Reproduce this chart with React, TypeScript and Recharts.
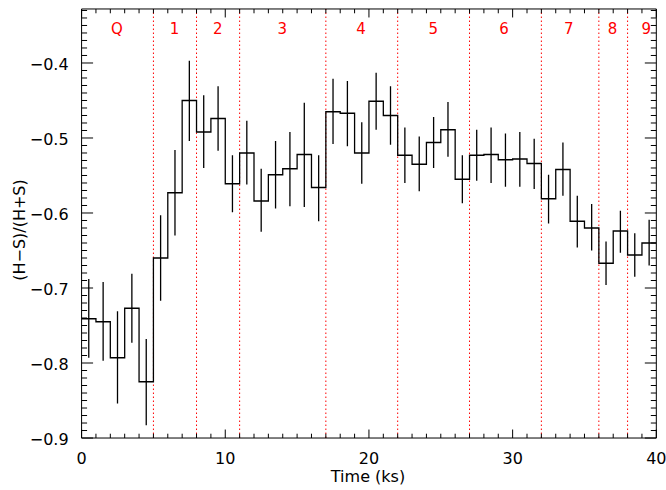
import React from 'react';
import { ComposedChart, Line, Scatter, ErrorBar, XAxis, YAxis, ReferenceLine, Customized } from 'recharts';

// Bin start times (ks), width 1 ks
const binStarts = [0, 1, 2, 3, 4, 5, 6, 7, 8, 9, 10, 11, 12, 13, 14, 15, 16, 17, 18, 19,
  20, 21, 22, 23, 24, 25, 26, 27, 28, 29, 30, 31, 32, 33, 34, 35, 36, 37, 38, 39];
const binWidth = 1;

// Hardness ratio (H-S)/(H+S) per bin
const hrValues = [-0.741, -0.745, -0.793, -0.727, -0.825, -0.660, -0.573, -0.450, -0.492, -0.474,
  -0.561, -0.520, -0.584, -0.549, -0.541, -0.522, -0.566, -0.465, -0.467, -0.520,
  -0.451, -0.470, -0.523, -0.535, -0.506, -0.489, -0.555, -0.523, -0.522, -0.529,
  -0.528, -0.534, -0.581, -0.542, -0.611, -0.620, -0.667, -0.624, -0.656, -0.640];
// Upper and lower ends of the error bars
const hrUpper = [-0.688, -0.692, -0.731, -0.681, -0.768, -0.603, -0.516, -0.397, -0.443, -0.431,
  -0.523, -0.477, -0.541, -0.504, -0.492, -0.453, -0.523, -0.421, -0.424, -0.479,
  -0.413, -0.431, -0.486, -0.498, -0.472, -0.452, -0.523, -0.489, -0.486, -0.494,
  -0.492, -0.501, -0.549, -0.506, -0.577, -0.588, -0.638, -0.597, -0.627, -0.609];
const hrLower = [-0.793, -0.797, -0.854, -0.773, -0.883, -0.717, -0.630, -0.504, -0.540, -0.517,
  -0.599, -0.562, -0.625, -0.594, -0.591, -0.592, -0.611, -0.508, -0.511, -0.561,
  -0.489, -0.509, -0.560, -0.571, -0.540, -0.525, -0.587, -0.557, -0.560, -0.565,
  -0.565, -0.568, -0.614, -0.577, -0.646, -0.650, -0.696, -0.653, -0.685, -0.670];

// Region boundaries and labels
const regionBounds = [5, 8, 11, 17, 22, 27, 32, 36, 38];
const regionNames = ['Q', '1', '2', '3', '4', '5', '6', '7', '8', '9'];
const regionLabelX = [2.45, 6.46, 9.47, 13.97, 19.44, 24.47, 29.4, 33.9, 36.95, 39.3];
const regionLabelY = -0.354;

// Axis ticks (major labelled, minor unlabelled)
const xMajorTicks = [0, 10, 20, 30, 40];
const xMinorTicks = [1, 2, 3, 4, 5, 6, 7, 8, 9, 11, 12, 13, 14, 15, 16, 17, 18, 19,
  21, 22, 23, 24, 25, 26, 27, 28, 29, 31, 32, 33, 34, 35, 36, 37, 38, 39];
const yMajorTicks = [-0.9, -0.8, -0.7, -0.6, -0.5, -0.4];
const yMinorTicks = Array.from({ length: 58 }, (_, i) => Math.round((-0.9 + i * 0.01) * 1000) / 1000)
  .filter((v) => !yMajorTicks.some((m) => Math.abs(m - v) < 1e-6));

const X_DOMAIN: [number, number] = [0, 40];
const Y_DOMAIN: [number, number] = [-0.9, -0.328];

const FONT = 'DejaVu Sans';
const TINY = 0.01;
const W = 666;
const H = 490;
const M = { top: 9, right: 9.7, bottom: 52, left: 81.6 };
const PLOT_LEFT = M.left;
const PLOT_BOTTOM = H - M.bottom;

const stepData = [
  ...binStarts.map((s, i) => ({ x: s, y: hrValues[i] })),
  { x: binStarts[binStarts.length - 1] + binWidth, y: hrValues[hrValues.length - 1] },
];
const pointData = binStarts.map((s, i) => ({
  x: s + binWidth / 2,
  y: hrValues[i],
  err: [hrValues[i] - hrLower[i], hrUpper[i] - hrValues[i]],
}));
const labelData = regionNames.map((t, i) => ({ x: regionLabelX[i], y: regionLabelY, t }));

const fmtY = (v: number) => (v < 0 ? '\u2212' : '') + Math.abs(v).toFixed(1);

const LeftLabel = (p: any) => (
  <text x={PLOT_LEFT - 13} y={p.y + 7} textAnchor="end" fontSize={16} fontFamily={FONT} fill="#000">
    {fmtY(p.payload.value)}
  </text>
);
const BottomLabel = (p: any) => (
  <text x={p.x} y={PLOT_BOTTOM + 26} textAnchor="middle" fontSize={16} fontFamily={FONT} fill="#000">
    {String(p.payload.value)}
  </text>
);
const NoLabel = () => <g />;

const RegionLabel = (p: any) => (
  <text x={p.cx} y={p.cy + 5.5} textAnchor="middle" fontSize={15} fontFamily={FONT} fill="#ff0000">
    {p.payload.t}
  </text>
);

const Titles = () => (
  <g>
    <text x={368} y={482} textAnchor="middle" fontSize={16} fontFamily={FONT} fill="#000">
      Time (ks)
    </text>
    <text
      x={19}
      y={230}
      transform="rotate(-90, 19, 230)"
      textAnchor="middle"
      dy="0.35em"
      fontSize={16}
      fontFamily={FONT}
      fill="#000"
    >
      (H{'\u2212'}S)/(H+S)
    </text>
  </g>
);

const Empty = () => <g />;
const TL = { stroke: '#000', strokeWidth: 1 };

export default function App() {
  return (
    <div style={{ position: 'absolute', left: 0, top: 0, width: W, height: H, background: '#fff' }}>
      <ComposedChart
        width={W}
        height={H}
        margin={{
          top: M.top - 2 * TINY,
          right: M.right - 2 * TINY,
          bottom: M.bottom - 2 * TINY,
          left: M.left - 2 * TINY,
        }}
      >
        {/* bottom: major ticks + labels, minor ticks (ticks point inward) */}
        <XAxis xAxisId="b" type="number" dataKey="x" domain={X_DOMAIN} ticks={xMajorTicks} interval={0}
          allowDataOverflow height={TINY} mirror tickSize={8.5} tickMargin={0} tickLine={TL}
          axisLine={TL} tick={BottomLabel} />
        <XAxis xAxisId="bm" type="number" dataKey="x" domain={X_DOMAIN} ticks={xMinorTicks} interval={0}
          allowDataOverflow height={TINY} mirror tickSize={4.3} tickMargin={0} tickLine={TL}
          axisLine={false} tick={NoLabel} />
        {/* top */}
        <XAxis xAxisId="t" orientation="top" type="number" dataKey="x" domain={X_DOMAIN} ticks={xMajorTicks} interval={0}
          allowDataOverflow height={TINY} mirror tickSize={8.5} tickMargin={0} tickLine={TL}
          axisLine={TL} tick={NoLabel} />
        <XAxis xAxisId="tm" orientation="top" type="number" dataKey="x" domain={X_DOMAIN} ticks={xMinorTicks} interval={0}
          allowDataOverflow height={TINY} mirror tickSize={4.3} tickMargin={0} tickLine={TL}
          axisLine={false} tick={NoLabel} />
        {/* left */}
        <YAxis yAxisId="l" type="number" domain={Y_DOMAIN} ticks={yMajorTicks} interval={0}
          allowDataOverflow width={TINY} mirror tickSize={11.5} tickMargin={0} tickLine={TL}
          axisLine={TL} tick={LeftLabel} />
        <YAxis yAxisId="lm" type="number" domain={Y_DOMAIN} ticks={yMinorTicks} interval={0}
          allowDataOverflow width={TINY} mirror tickSize={5.5} tickMargin={0} tickLine={TL}
          axisLine={false} tick={NoLabel} />
        {/* right */}
        <YAxis yAxisId="r" orientation="right" type="number" domain={Y_DOMAIN} ticks={yMajorTicks} interval={0}
          allowDataOverflow width={TINY} mirror tickSize={11.5} tickMargin={0} tickLine={TL}
          axisLine={TL} tick={NoLabel} />
        <YAxis yAxisId="rm" orientation="right" type="number" domain={Y_DOMAIN} ticks={yMinorTicks} interval={0}
          allowDataOverflow width={TINY} mirror tickSize={5.5} tickMargin={0} tickLine={TL}
          axisLine={false} tick={NoLabel} />

        {/* invisible series so that every tick axis is in use */}
        <Line xAxisId="bm" yAxisId="lm" data={stepData} dataKey="y" stroke="none" dot={false}
          activeDot={false} legendType="none" isAnimationActive={false} />
        <Line xAxisId="t" yAxisId="r" data={stepData} dataKey="y" stroke="none" dot={false}
          activeDot={false} legendType="none" isAnimationActive={false} />
        <Line xAxisId="tm" yAxisId="rm" data={stepData} dataKey="y" stroke="none" dot={false}
          activeDot={false} legendType="none" isAnimationActive={false} />

        {regionBounds.map((b) => (
          <ReferenceLine key={b} x={b} xAxisId="b" yAxisId="l" stroke="#ff0000"
            strokeWidth={1} strokeDasharray="1.5 2.5" />
        ))}

        <Line xAxisId="b" yAxisId="l" data={stepData} dataKey="y" type="stepAfter"
          stroke="#000" strokeWidth={1.3} dot={false} activeDot={false} isAnimationActive={false} />

        <Scatter xAxisId="b" yAxisId="l" data={pointData} dataKey="y" shape={Empty}
          isAnimationActive={false}>
          <ErrorBar dataKey="err" direction="y" width={0} stroke="#000" strokeWidth={1.3} isAnimationActive={false} />
        </Scatter>

        <Scatter xAxisId="b" yAxisId="l" data={labelData} dataKey="y" shape={RegionLabel}
          isAnimationActive={false} />

        <Customized component={Titles} />
      </ComposedChart>
    </div>
  );
}
